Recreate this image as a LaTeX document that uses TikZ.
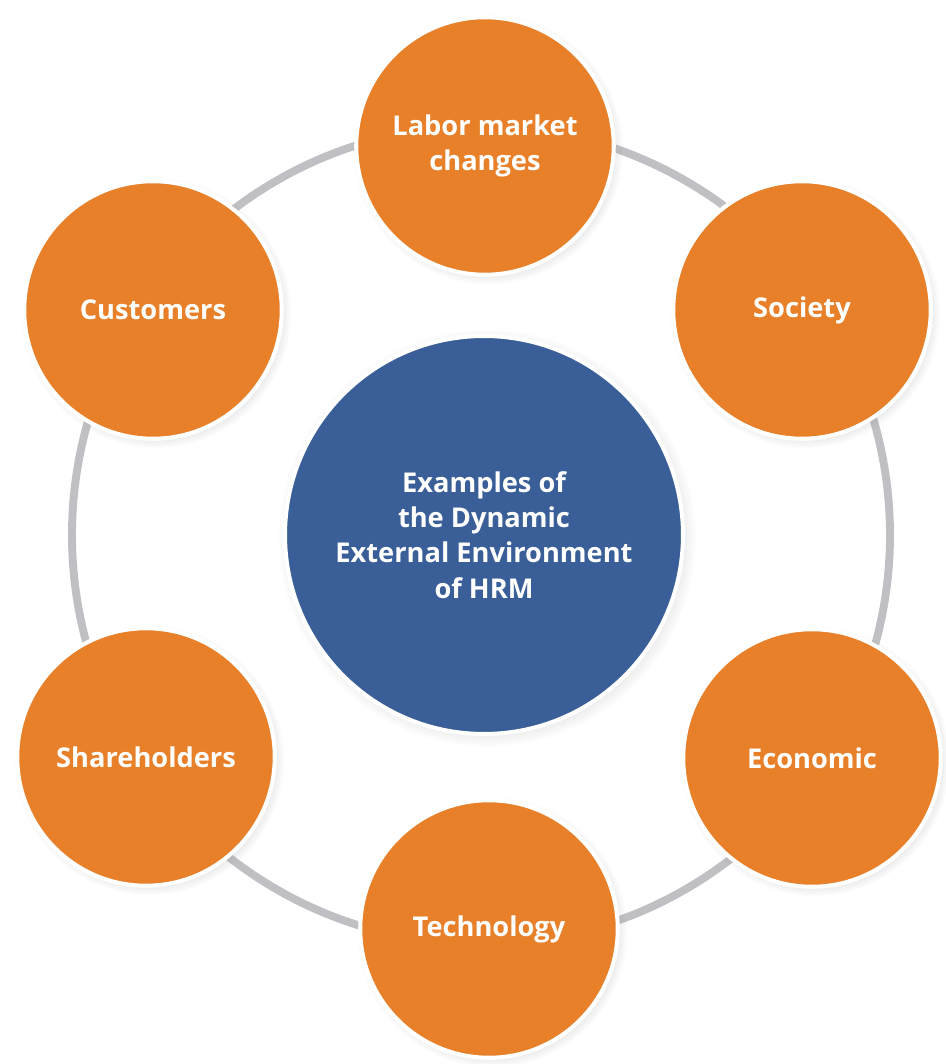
\documentclass[tikz,border=0pt]{standalone}
\usepackage{fontspec}
\setmainfont{Open Sans}
\usepackage{tikz}
\usetikzlibrary{shapes,shadows,positioning}
\usepackage{xcolor}

\definecolor{naranja}{RGB}{232,128,42}
\definecolor{azul}{RGB}{58,94,151}
\definecolor{anillo}{RGB}{192,192,196}

\begin{document}
\begin{tikzpicture}[node distance = 2cm, auto]

    \tikzstyle{factor} = [
        circle,
        draw=white,
        line width=2.3pt,
        fill=naranja,
        minimum size=5.15cm,
        text=white,
        align=center,
        font=\bfseries\fontsize{15.5}{20}\selectfont,
        circular drop shadow={shadow scale=1.05, opacity=0.35, fill=black!45},
    ]
    \tikzstyle{nucleo} = [
        factor,
        fill=azul,
        minimum size=7.96cm,
    ]
    \tikzstyle{ring} = [
        draw=anillo,
        line width=4.5pt,
    ]

    \useasboundingbox (-9.68,-10.58) rectangle (9.24,10.70);

    \draw [ring] (-0.06,0) circle (8.18cm);

    \node [nucleo] (hrm) at (0,0) {Examples of\\the Dynamic\\External Environment\\of HRM};

    \node [factor] (lab) at (0.02,7.78)   {Labor market\\changes};
    \node [factor] (soc) at (6.36,4.50)   {Society};
    \node [factor] (eco) at (6.56,-4.46)  {Economic};
    \node [factor] (tec) at (0.10,-7.88)  {Technology};
    \node [factor] (sha) at (-6.76,-4.44) {Shareholders};
    \node [factor] (cus) at (-6.62,4.50)  {Customers};

\end{tikzpicture}
\end{document}
